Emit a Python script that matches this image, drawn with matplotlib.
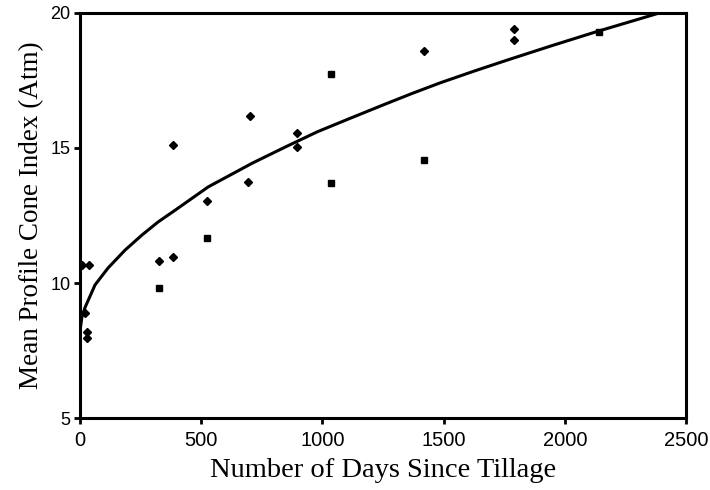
import matplotlib.pyplot as plt

plt.rcParams['font.family'] = 'Liberation Serif'

diamond_days = [10, 35, 20, 28, 28, 326, 384, 384, 524, 694, 700, 897, 897, 1421, 1789, 1789]
diamond_ci = [10.65, 10.65, 8.9, 8.2, 7.95, 10.8, 10.95, 15.1, 13.05, 13.75, 16.2, 15.55, 15.05, 18.6, 19.4, 19.0]
square_days = [326, 524, 1037, 1037, 1420, 2140]
square_ci = [9.8, 11.65, 17.75, 13.7, 14.55, 19.3]

# fitted curve
curve_days = [1, 8, 21, 62, 116, 186, 256, 322, 393, 529, 711, 850, 979, 1120, 1252, 1370, 1488, 1630, 1764, 1950, 2128, 2390]
curve_ci = [8.3, 8.75, 9.1, 9.93, 10.56, 11.22, 11.78, 12.26, 12.7, 13.56, 14.44, 15.05, 15.6, 16.12, 16.6, 17.02, 17.42, 17.86, 18.26, 18.8, 19.3, 20.0]

fig = plt.figure(figsize=(7.1, 4.9), dpi=100)
ax = fig.add_axes([0.1127, 0.1469, 0.8535, 0.8266])

ax.plot(curve_days, curve_ci, '-', color='black', linewidth=2.2, zorder=3)
ax.plot(diamond_days, diamond_ci, 'D', color='black', markersize=4.5, zorder=4)
ax.plot(square_days, square_ci, 's', color='black', markersize=5, zorder=4)

ax.set_xlim(0, 2500)
ax.set_ylim(5, 20)
ax.set_xticks([0, 500, 1000, 1500, 2000, 2500])
ax.set_yticks([5, 10, 15, 20])

for s in ax.spines.values():
    s.set_linewidth(2.2)
ax.tick_params(axis='x', direction='out', length=4, width=2, pad=5)
ax.tick_params(axis='y', direction='out', length=4, width=2, pad=3)
for lab in ax.get_xticklabels():
    lab.set_family('Liberation Sans')
    lab.set_fontsize(14.5)
for lab in ax.get_yticklabels():
    lab.set_family('Liberation Sans')
    lab.set_fontsize(13)

ax.set_xlabel('Number of Days Since Tillage', fontsize=20.5, labelpad=6)
ax.set_ylabel('Mean Profile Cone Index (Atm)', fontsize=19.5, labelpad=4)

fig.savefig('out.png', dpi=100)
